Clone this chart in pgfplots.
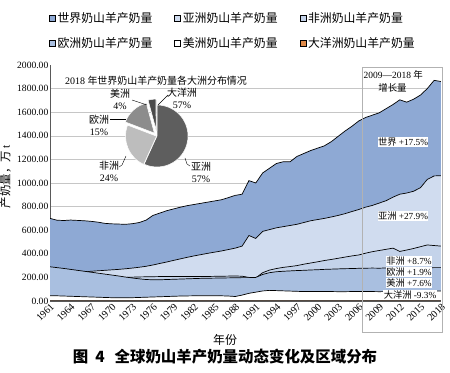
\documentclass[border=0pt]{standalone}
\usepackage{pgfplots}
\pgfplotsset{compat=1.18}
\usepackage{pgfplotstable}
\usepackage{fontspec}
\setmainfont{Liberation Serif}
\newfontfamily\cjk{Noto Sans CJK SC}

\definecolor{worldc}{HTML}{8EA9D4}
\definecolor{asiac}{HTML}{D0DCEF}
\definecolor{afric}{HTML}{C4D3EA}
\definecolor{euroc}{HTML}{A9BFE0}
\definecolor{amc}{HTML}{FFFFFF}
\definecolor{occ}{HTML}{E08A48}
\definecolor{piA}{HTML}{5E5E5E}
\definecolor{piB}{HTML}{BDBDBD}
\definecolor{piC}{HTML}{8C8C8C}
\definecolor{piD}{HTML}{4A4A4A}
\definecolor{piE}{HTML}{333333}

\pgfplotstableread{
year W AS AF EU AM OC
1961 700 230 150 290 45 3.0
1962 685 233 155 283 44 3.0
1963 682 236 160 276 42 3.0
1964 686 239 165 268 40 3.0
1965 683 243 170 260 38 3.0
1966 680 247 175 252 36 3.0
1967 675 252 180 244 34 3.0
1968 668 256 185 236 32 3.0
1969 658 260 190 228 30 3.0
1970 654 264 195 220 28 3.0
1971 652 268 198 212 27 3.0
1972 650 273 200 203 27 3.0
1973 655 279 202 195 28 3.0
1974 665 286 204 188 30 3.0
1975 685 294 205 182 32 3.0
1976 725 305 206 180 34 3.0
1977 745 318 207 180 36 3.0
1978 765 330 207 182 38 3.0
1979 780 344 208 184 40 3.0
1980 795 357 208 186 42 3.0
1981 808 370 208 188 43 3.0
1982 818 382 207 190 44 3.0
1983 828 393 207 192 45 3.0
1984 838 404 208 193 45 3.0
1985 848 414 209 194 45 3.0
1986 858 424 210 195 44 3.0
1987 876 436 211 196 42 3.0
1988 895 448 212 197 38 3.0
1989 905 465 210 198 50 3.0
1990 1020 555 200 198 65 3.0
1991 1000 530 195 200 75 3.0
1992 1085 590 240 225 85 3.0
1993 1125 605 262 240 90 3.0
1994 1165 620 275 248 88 3.0
1995 1180 630 285 252 86 3.0
1996 1180 640 292 255 84 3.0
1997 1225 650 300 258 82 3.0
1998 1250 665 312 260 80 3.0
1999 1275 680 322 263 80 3.0
2000 1295 690 332 265 80 3.0
2001 1315 700 343 268 80 3.0
2002 1350 712 352 270 80 3.0
2003 1395 725 362 272 79 3.0
2004 1440 740 372 274 79 3.0
2005 1480 758 382 275 80 3.0
2006 1525 775 390 277 80 3.0
2007 1555 795 405 278 80 3.0
2008 1575 810 418 279 80 3.2
2009 1595 830 428 278 79 3.3
2010 1630 850 438 280 80 3.2
2011 1665 880 448 280 81 3.2
2012 1705 905 420 282 82 3.1
2013 1685 915 432 281 83 3.1
2014 1710 930 445 280 84 3.0
2015 1745 960 460 279 84 3.0
2016 1800 1030 475 280 85 3.0
2017 1870 1060 470 283 85 3.0
2018 1860 1062 465 283 85 3.0
}\milk

\pgfplotsset{
  ser/.style={fill=#1, draw=none,
    legend image code/.code={\draw[fill=#1, draw=black, line width=0.4bp] (0bp,-3bp) rectangle (6bp,3bp);}},
  ln/.style={black, line width=0.7bp, forget plot},
}

\begin{document}
\begin{tikzpicture}
\begin{axis}[
  at={(0,0)}, anchor=south west,
  scale only axis, width=391bp, height=236bp,
  xmin=1961, xmax=2018, ymin=0, ymax=2000,
  axis x line*=bottom, axis y line*=left,
  axis line style={gray!70!black, line width=0.5bp},
  xtick={1961,1964,...,2018},
  ytick={0,200,...,1800},
  extra y ticks={2000},
  extra y tick style={grid=none},
  tick style={draw=none},
  ymajorgrids, grid style={gray!45, line width=0.5bp},
  yticklabel style={font=\fontsize{9.6}{11}\selectfont, inner sep=1.5bp,
    /pgf/number format/.cd, fixed, fixed zerofill, precision=2, 1000 sep={}, assume math mode=true},
  xticklabel style={font=\fontsize{10.2}{12}\selectfont, rotate=45, anchor=north east, inner sep=1bp,
    /pgf/number format/.cd, 1000 sep={}, assume math mode=true},
  legend columns=3,
  legend cell align=left,
  legend style={at={(0,1)}, anchor=south west, xshift=-4bp, yshift=12bp,
    draw=none, fill=none, font=\cjk\fontsize{11.9}{13}\selectfont,
    row sep=9bp,
    /tikz/every even column/.append style={column sep=20bp}},
]
\addplot[ser=worldc] table[x=year, y=W]{\milk} \closedcycle;
\addlegendentry{世界奶山羊产奶量}
\addplot[ln] table[x=year, y=W]{\milk};
\addplot[ser=asiac] table[x=year, y=AS]{\milk} \closedcycle;
\addlegendentry{亚洲奶山羊产奶量}
\addplot[ln] table[x=year, y=AS]{\milk};
\addplot[ser=afric] table[x=year, y=AF]{\milk} \closedcycle;
\addlegendentry{非洲奶山羊产奶量}
\addplot[ln] table[x=year, y=AF]{\milk};
\addplot[ser=euroc] table[x=year, y=EU]{\milk} \closedcycle;
\addlegendentry{欧洲奶山羊产奶量}
\addplot[ln] table[x=year, y=EU]{\milk};
\addplot[ser=amc] table[x=year, y=AM]{\milk} \closedcycle;
\addlegendentry{美洲奶山羊产奶量}
\addplot[ln] table[x=year, y=AM]{\milk};
\addplot[ser=occ] table[x=year, y=OC]{\milk} \closedcycle;
\addlegendentry{大洋洲奶山羊产奶量}
\addplot[ln] table[x=year, y=OC]{\milk};
\end{axis}

% growth box and labels
\draw[gray!60, line width=0.6bp] (312bp,-31bp) rectangle (392bp,234bp);
\node[anchor=west, inner sep=0.5bp, font=\fontsize{9.5}{11}\selectfont] at (313bp,226bp) {2009—2018 {\cjk 年}};
\node[inner sep=0.5bp, font=\cjk\fontsize{9.5}{11}\selectfont] at (342.5bp,213bp) {增长量};
\begin{scope}[every node/.style={fill=white, inner sep=0.4bp, font=\fontsize{9.3}{10}\selectfont}]
\node at (353bp,159bp) {{\cjk 世界} +17.5\%};
\node at (353bp,85bp) {{\cjk 亚洲} +27.9\%};
\node at (359bp,40bp) {{\cjk 非洲} +8.7\%};
\node at (359bp,29bp) {{\cjk 欧洲} +1.9\%};
\node at (359bp,18bp) {{\cjk 美洲} +7.6\%};
\node at (360bp,6bp) {{\cjk 大洋洲} -9.3\%};
\end{scope}

% inset pie: 2018 shares
\node[font=\fontsize{10}{12}\selectfont, fill=white, inner sep=1bp] at (106bp,220.5bp) {2018 {\cjk 年世界奶山羊产奶量各大洲分布情况}};
\gdef\curang{90}
\foreach \v/\c/\e in {56.8/piA/0,24/piB/0.5,15/piC/4,4/piD/6,0.2/piE/5}{
  \pgfmathsetmacro\endang{\curang-\v*3.6}
  \pgfmathsetmacro\midang{(\curang+\endang)/2}
  \fill[\c, draw=white, line width=0.5bp, shift={(107bp,165bp)}, shift={(\midang:\e bp)}]
     (0,0) -- (\curang:31bp) arc[start angle=\curang, end angle=\endang, radius=31bp] -- cycle;
  \xdef\curang{\endang}
}
\begin{scope}[every node/.style={align=center, inner sep=0.5bp, font=\fontsize{10}{12}\selectfont}]
\node at (70bp,202bp) {{\cjk 美洲}\\4\%};
\node at (132bp,203bp) {{\cjk 大洋洲}\\57\%};
\node at (49bp,176bp) {{\cjk 欧洲}\\15\%};
\node at (59bp,130bp) {{\cjk 非洲}\\24\%};
\node at (151bp,129bp) {{\cjk 亚洲}\\57\%};
\end{scope}
\draw[black, line width=0.4bp] (82bp,201bp) -- (97bp,196bp);
\draw[black, line width=0.4bp] (118bp,206bp) -- (108bp,196bp);
\draw[black, line width=0.4bp] (60bp,182bp) -- (76bp,182bp);
\draw[black, line width=0.4bp] (69bp,134bp) -- (72bp,136bp) -- (76bp,145bp);
\draw[black, line width=0.4bp] (140bp,135bp) -- (137bp,137bp) -- (135bp,143bp);

% axis titles and caption
\node[rotate=90, font=\cjk\fontsize{11.5}{13}\selectfont] at (-44.5bp,124bp) {产奶量，万\,{\rmfamily t}};
\node[font=\cjk\fontsize{12}{14}\selectfont] at (175bp,-39bp) {年份};
\node[font=\cjk\bfseries\fontsize{15.5}{18}\selectfont] at (175bp,-56bp) {图\hspace{7bp}4\hspace{10bp}全球奶山羊产奶量动态变化及区域分布};

\pgfresetboundingbox
\path[use as bounding box] (-50bp,-72bp) rectangle (400bp,301bp);
\end{tikzpicture}
\end{document}
